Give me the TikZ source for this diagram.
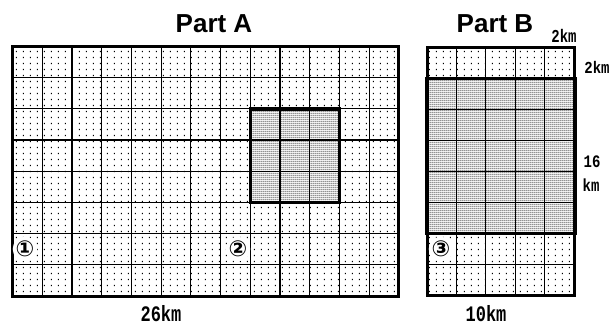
\documentclass[tikz,border=0pt]{standalone}
\usepackage{fontspec}
\setmainfont{Liberation Sans}
\newfontfamily\monofnt{Liberation Mono}
\newfontfamily\symfnt{DejaVu Sans}
\usetikzlibrary{patterns}
\pgfdeclarepatternformonly{lightdots}{\pgfpointorigin}{\pgfpoint{7pt}{5.6pt}}{\pgfpoint{7pt}{5.6pt}}{\pgfpathrectangle{\pgfpoint{2pt}{2pt}}{\pgfpoint{1.4pt}{1.4pt}}\pgfusepath{fill}}
\pgfdeclarepatternformonly{densedots}{\pgfpointorigin}{\pgfpoint{2.4pt}{2.1pt}}{\pgfpoint{2.4pt}{2.1pt}}{\pgfpathrectangle{\pgfpoint{0.5pt}{0.5pt}}{\pgfpoint{1.3pt}{1.25pt}}\pgfusepath{fill}}
\tikzset{
  gridline/.style={line width=1.2pt},
  outerline/.style={line width=3pt},
  boxline/.style={line width=3.6pt},
  titletext/.style={font=\bfseries\fontsize{26}{26}\selectfont, inner sep=0pt},
  labtext/.style={font=\monofnt\bfseries\fontsize{14}{14}\selectfont, inner sep=0pt},
  bigtext/.style={font=\monofnt\bfseries\fontsize{17}{17}\selectfont, inner sep=0pt},
  circtext/.style={font=\symfnt\bfseries\fontsize{22}{22}\selectfont, inner sep=0pt, circle, fill=white}
}
\begin{document}
\begin{tikzpicture}[x=1pt,y=-1pt]
\useasboundingbox (0,0) rectangle (612,327);
% ---------- Part A ----------
\def\ax{12.5}\def\ay{46.5}\def\aw{29.73}\def\ah{31.19}
\fill[pattern=lightdots] (\ax,\ay) rectangle (\ax+13*\aw,\ay+8*\ah);
\fill[white] (\ax+8*\aw,\ay+2*\ah) rectangle (\ax+11*\aw,\ay+5*\ah);
\fill[pattern=densedots] (\ax+8*\aw,\ay+2*\ah) rectangle (\ax+11*\aw,\ay+5*\ah);
\foreach \i in {1,...,12} \draw[gridline] (\ax+\i*\aw,\ay) -- (\ax+\i*\aw,\ay+8*\ah);
\foreach \j in {1,...,7} \draw[gridline] (\ax,\ay+\j*\ah) -- (\ax+13*\aw,\ay+\j*\ah);
\draw[outerline] (\ax,\ay) rectangle (\ax+13*\aw,\ay+8*\ah);
\draw[boxline] (\ax+8*\aw,\ay+2*\ah) rectangle (\ax+11*\aw,\ay+5*\ah);
% ---------- Part B ----------
\def\bx{427}\def\by{47.5}\def\bw{29.4}\def\bh{31}
\fill[pattern=lightdots] (\bx,\by) rectangle (\bx+5*\bw,\by+8*\bh);
\fill[white] (\bx,\by+\bh) rectangle (\bx+5*\bw,\by+6*\bh);
\fill[pattern=densedots] (\bx,\by+\bh) rectangle (\bx+5*\bw,\by+6*\bh);
\foreach \i in {1,...,4} \draw[gridline] (\bx+\i*\bw,\by) -- (\bx+\i*\bw,\by+8*\bh);
\foreach \j in {1,...,7} \draw[gridline] (\bx,\by+\j*\bh) -- (\bx+5*\bw,\by+\j*\bh);
\draw[outerline] (\bx,\by) rectangle (\bx+5*\bw,\by+8*\bh);
\draw[boxline] (\bx,\by+\bh) rectangle (\bx+5*\bw+1,\by+6*\bh);
% ---------- texts ----------
\node[titletext] (pa) at (214,24) {Part A};
\node[titletext] (pb) at (495,24) {Part B};
\node[bigtext] (wa) at (161,313.5) {\scalebox{1}[1.3]{26km}};
\node[bigtext] (wb) at (486,314) {\scalebox{1}[1.3]{10km}};
\node[labtext] (t1) at (564,36) {\scalebox{1}[1.3]{2km}};
\node[labtext] (t2) at (597,67) {\scalebox{1}[1.2]{2km}};
\node[labtext] (t3) at (592,162) {\scalebox{1}[1.25]{16}};
\node[labtext] (t4) at (591,185) {\scalebox{1}[1.25]{km}};
\node[circtext] (c1) at (25,249) {①};
\node[circtext] (c2) at (238,249) {②};
\node[circtext] (c3) at (441,249) {③};
\end{tikzpicture}
\end{document}
